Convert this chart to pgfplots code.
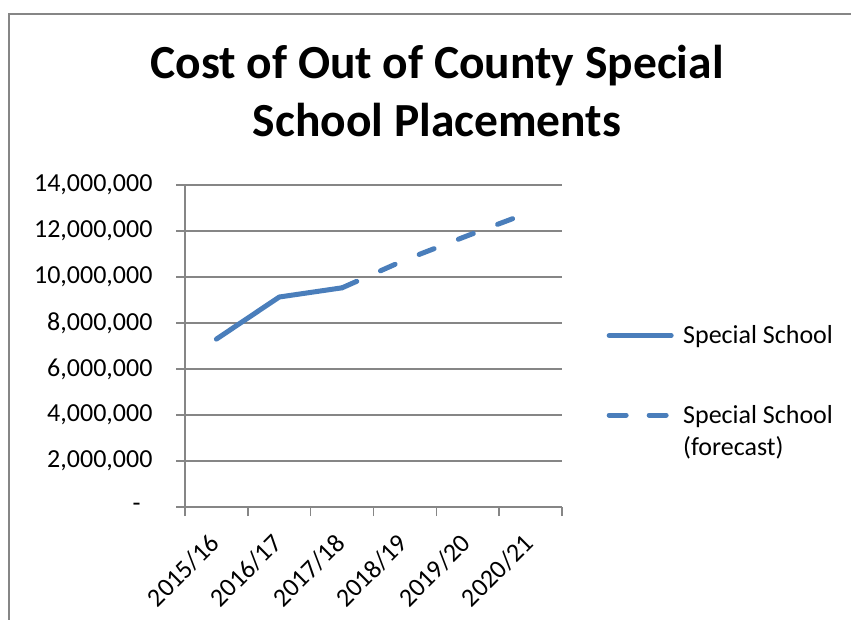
\documentclass[border=0pt]{standalone}
\usepackage{pgfplots}
\pgfplotsset{compat=1.18}
\usepackage{fontspec}
\setmainfont{Carlito}
\definecolor{linec}{HTML}{4A7EBB}
\definecolor{gridc}{HTML}{868686}
\pgfplotsset{
  sollegend/.style={legend image code/.code={\draw[##1] (2.5pt,8pt) -- (64.5pt,8pt); \path (72pt,8pt);}},
  fclegend/.style={legend image code/.code={\draw[##1, dash pattern=on 17pt off 23pt] (2.5pt,40pt) -- (60pt,40pt);}},
}
\begin{document}
\begin{tikzpicture}
\useasboundingbox (0pt,0pt) rectangle (851pt,619pt);
\draw[gridc, line width=2pt] (8.5pt,-20pt) |- (900pt,604.5pt);
\node[font=\fontsize{47.5}{58}\selectfont\bfseries, align=center, anchor=base] at (437pt,482pt) {Cost of Out of County Special\\School Placements};
\begin{axis}[
  at={(185pt,112pt)}, anchor=south west,
  scale only axis, width=377pt, height=322pt,
  xmin=-0.5, xmax=5.5, ymin=0, ymax=14000000,
  xtick={0,1,2,3,4,5},
  xticklabels={2015/16,2016/17,2017/18,2018/19,2019/20,2020/21},
  major x tick style={draw=none},
  minor xtick={-0.5,0.5,1.5,2.5,3.5,4.5,5.5},
  minor tick length=9pt,
  xtick style={gridc, line width=1.5pt},
  x tick label style={rotate=45, anchor=north east, font=\fontsize{26}{30}\selectfont, xshift=-14pt, yshift=-2pt},
  ytick={0,2000000,4000000,6000000,8000000,10000000,12000000,14000000},
  yticklabels={{-\hbox to 12pt{}},{2,000,000},{4,000,000},{6,000,000},{8,000,000},{10,000,000},{12,000,000},{14,000,000}},
  y tick label style={font=\fontsize{26}{30}\selectfont, xshift=-20pt},
  ytick style={gridc, line width=1.5pt},
  major tick length=9pt,
  tick align=outside,
  ymajorgrids, grid style={gridc, line width=1.5pt},
  axis x line*=bottom, axis y line*=left,
  axis line style={gridc, line width=1.5pt, -},
  scaled y ticks=false,
  clip=false,
  legend style={at={(1.11,0.36)}, anchor=west, draw=none, fill=none,
    font=\fontsize{26}{32}\selectfont, row sep=56pt,
    nodes={align=left, anchor=base west}},
  legend cell align=left,
]
\addplot[linec, line width=5pt, line cap=round, line join=round, sollegend]
  coordinates {(0,7300000) (1,9130000) (2,9530000)};
\addlegendentry{Special School}
\addplot[linec, line width=5pt, line cap=round, dash pattern=on 16pt off 26pt, fclegend]
  coordinates {(2,9530000) (3,10740000) (4,11800000) (5,12830000)};
\addlegendentry{Special School\\(forecast)}
\end{axis}
\end{tikzpicture}
\end{document}
